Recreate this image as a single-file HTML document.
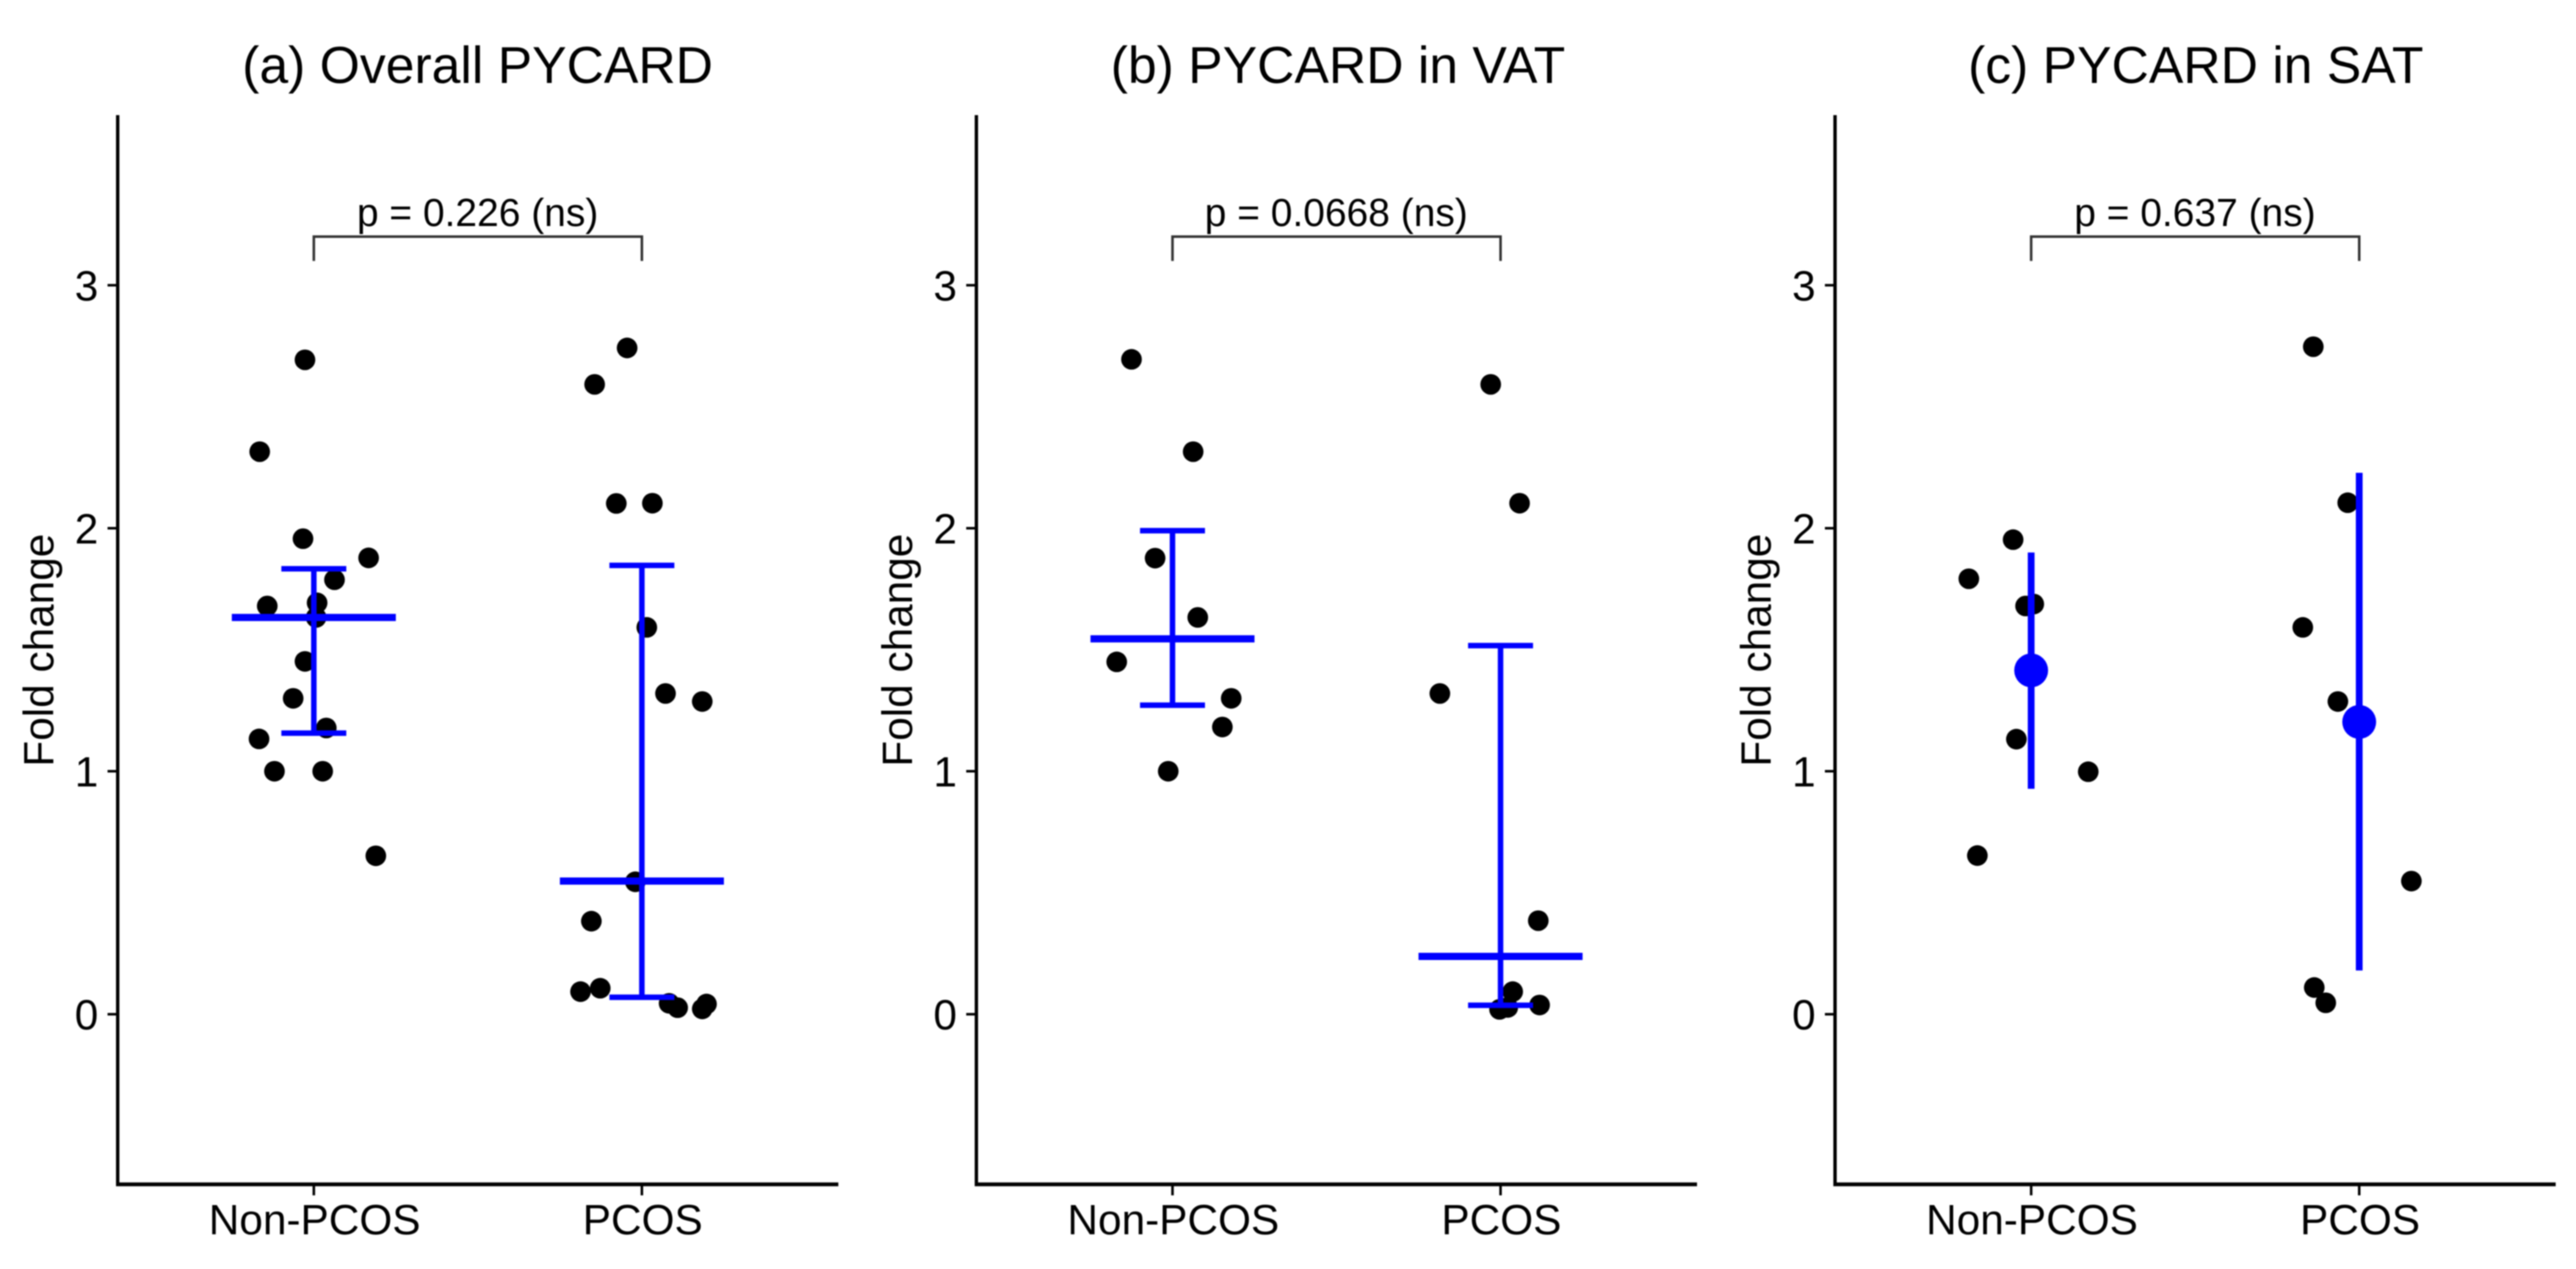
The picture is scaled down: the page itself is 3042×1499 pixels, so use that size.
<!DOCTYPE html>
<html lang="en">
<head>
<meta charset="utf-8">
<title>PYCARD fold change</title>
<style>
html,body{margin:0;padding:0;background:#fff;}
svg{display:block;filter:blur(0.7px);}
text{font-family:"Liberation Sans",sans-serif;fill:#000;}
</style>
</head>
<body>
<svg id="chart" xmlns="http://www.w3.org/2000/svg" width="3042" height="1499" viewBox="0 0 3042 1499">
  <rect x="0" y="0" width="3042" height="1499" fill="#fff"/>

  <g id="panel-0" transform="translate(0,0)">
    <text x="564" y="98" font-size="61" text-anchor="middle">(a) Overall PYCARD</text>
    <text transform="translate(63,768) rotate(-90)" font-size="50" text-anchor="middle">Fold change</text>
    <text x="564" y="267" font-size="46" text-anchor="middle">p = 0.226 (ns)</text>
  </g>

  <g id="panel-1" transform="translate(1014,0)">
    <text x="566" y="98" font-size="61" text-anchor="middle">(b) PYCARD in VAT</text>
    <text transform="translate(63,768) rotate(-90)" font-size="50" text-anchor="middle">Fold change</text>
    <text x="564" y="267" font-size="46" text-anchor="middle">p = 0.0668 (ns)</text>
  </g>

  <g id="panel-2" transform="translate(2028,0)">
    <text x="565" y="98" font-size="61" text-anchor="middle">(c) PYCARD in SAT</text>
    <text transform="translate(63,768) rotate(-90)" font-size="50" text-anchor="middle">Fold change</text>
    <text x="564" y="267" font-size="46" text-anchor="middle">p = 0.637 (ns)</text>
  </g>
</svg>

<script>
// Category labels and y tick labels
const categories = ['Non-PCOS', 'PCOS'];
const yTicks = [0, 1, 2, 3];
const yDomain = [-0.7, 3.7];

// Panel (a): fold-change values and horizontal jitter (in category units)
const aNonValues = [2.693, 2.315, 1.957, 1.878, 1.788, 1.68, 1.693, 1.633, 1.452, 1.30, 1.178, 1.133, 1.0, 1.0, 0.652];
const aNonJitter = [-0.027, -0.165, -0.033, 0.167, 0.063, -0.142, 0.01, 0.007, -0.027, -0.063, 0.038, -0.167, -0.12, 0.027, 0.189];
const aPcosValues = [2.742, 2.592, 2.102, 2.103, 1.592, 1.32, 1.287, 0.545, 0.383, 0.093, 0.107, 0.045, 0.027, 0.022, 0.042];
const aPcosJitter = [-0.045, -0.144, -0.078, 0.032, 0.015, 0.072, 0.184, -0.02, -0.154, -0.187, -0.127, 0.083, 0.109, 0.184, 0.197];
const aCentres = [1.633, 0.548];
const aUppers = [1.833, 1.847];
const aLowers = [1.157, 0.07];

// Panel (b)
const bNonValues = [2.695, 2.315, 1.877, 1.633, 1.45, 1.30, 1.182, 1.0];
const bNonJitter = [-0.125, 0.063, -0.053, 0.077, -0.17, 0.179, 0.152, -0.013];
const bPcosValues = [2.592, 2.103, 1.32, 0.385, 0.093, 0.038, 0.02, 0.028];
const bPcosJitter = [-0.03, 0.058, -0.185, 0.115, 0.037, 0.119, -0.003, 0.022];
const bCentres = [1.545, 0.238];
const bUppers = [1.99, 1.517];
const bLowers = [1.272, 0.037];

// Panel (c)
const cNonValues = [1.953, 1.792, 1.68, 1.688, 1.132, 0.998, 0.653];
const cNonJitter = [-0.055, -0.19, -0.017, 0.008, -0.045, 0.174, -0.164];
const cPcosValues = [2.747, 2.105, 1.592, 1.287, 0.548, 0.11, 0.047];
const cPcosJitter = [-0.14, -0.035, -0.172, -0.065, 0.159, -0.137, -0.102];
const cCentres = [1.415, 1.203];
const cUppers = [1.9, 2.228];
const cLowers = [0.928, 0.18];

// Significance bracket heights (data units)
const bracketTop = 3.2;
const bracketFoot = 3.1;

const SVG_NS = 'http://www.w3.org/2000/svg';
const BLUE = '#0000ff';

function yScale(v) {
  return 1399 + (v - yDomain[0]) * (136 - 1399) / (yDomain[1] - yDomain[0]);
}
function xScale(pos) {
  return 370.6 + 387.4 * pos;
}
function make(parent, tag, attrs) {
  const el = document.createElementNS(SVG_NS, tag);
  for (const k in attrs) el.setAttribute(k, attrs[k]);
  parent.appendChild(el);
  return el;
}
function line(parent, x1, y1, x2, y2, color, width) {
  return make(parent, 'line', {x1: x1, y1: y1, x2: x2, y2: y2, stroke: color, 'stroke-width': width});
}

function drawAxes(g) {
  const yAxis = line(g, 139, 136, 139, 1401, '#000', 4);
  
  
  const xAxis = line(g, 137, 1399, 990, 1399, '#000', 4.5);
  
  

  yTicks.forEach(function (t) {
    const mark = line(g, 127, yScale(t), 139, yScale(t), '#000', 3);
    
    
    const label = make(g, 'text', {x: 116, y: yScale(t) + 18, 'font-size': 50, 'text-anchor': 'end'});
    label.textContent = String(t);
    
    
  });

  categories.forEach(function (c, i) {
    const mark = line(g, xScale(i), 1399, xScale(i), 1412, '#000', 3);
    
    
    const label = make(g, 'text', {x: xScale(i) + 1, y: 1458, 'font-size': 50, 'text-anchor': 'middle'});
    label.textContent = c;
    
    
  });
}

function drawBracket(g) {
  const x0 = xScale(0);
  const x1 = xScale(1);
  const top = yScale(bracketTop);
  const foot = yScale(bracketFoot);
  const path = make(g, 'path', {
    d: 'M' + x0 + ' ' + foot + 'V' + top + 'H' + x1 + 'V' + foot,
    fill: 'none', stroke: '#333', 'stroke-width': 3
  });
  
  
}

function drawPoints(g, group, values, jitter) {
  values.forEach(function (v, i) {
    const dot = make(g, 'circle', {cx: xScale(group + jitter[i]), cy: yScale(v), r: 12.2, fill: '#000'});
    
    
  });
}

function drawCappedSummary(g, centres, uppers, lowers) {
  centres.forEach(function (m, i) {
    const name = categories[i].toLowerCase();
    const whisker = line(g, xScale(i), yScale(uppers[i]), xScale(i), yScale(lowers[i]), BLUE, 6.5);
    
    
    const capU = line(g, xScale(i - 0.099), yScale(uppers[i]), xScale(i + 0.099), yScale(uppers[i]), BLUE, 6.5);
    
    
    const capL = line(g, xScale(i - 0.099), yScale(lowers[i]), xScale(i + 0.099), yScale(lowers[i]), BLUE, 6.5);
    
    
    const bar = line(g, xScale(i - 0.25), yScale(m), xScale(i + 0.25), yScale(m), BLUE, 8.5);
    
    
  });
}

function drawPointRange(g, centres, uppers, lowers) {
  centres.forEach(function (m, i) {
    const name = categories[i].toLowerCase();
    const whisker = line(g, xScale(i), yScale(uppers[i]), xScale(i), yScale(lowers[i]), BLUE, 8);
    
    
    const dot = make(g, 'circle', {cx: xScale(i), cy: yScale(m), r: 20, fill: BLUE});
    
    
  });
}

const panelA = document.getElementById('panel-0');
const panelB = document.getElementById('panel-1');
const panelC = document.getElementById('panel-2');

[panelA, panelB, panelC].forEach(function (g) {
  drawAxes(g);
  drawBracket(g);
});

drawPoints(panelA, 0, aNonValues, aNonJitter);
drawPoints(panelA, 1, aPcosValues, aPcosJitter);
drawCappedSummary(panelA, aCentres, aUppers, aLowers);

drawPoints(panelB, 0, bNonValues, bNonJitter);
drawPoints(panelB, 1, bPcosValues, bPcosJitter);
drawCappedSummary(panelB, bCentres, bUppers, bLowers);

drawPoints(panelC, 0, cNonValues, cNonJitter);
drawPoints(panelC, 1, cPcosValues, cPcosJitter);
drawPointRange(panelC, cCentres, cUppers, cLowers);
</script>
</body>
</html>
